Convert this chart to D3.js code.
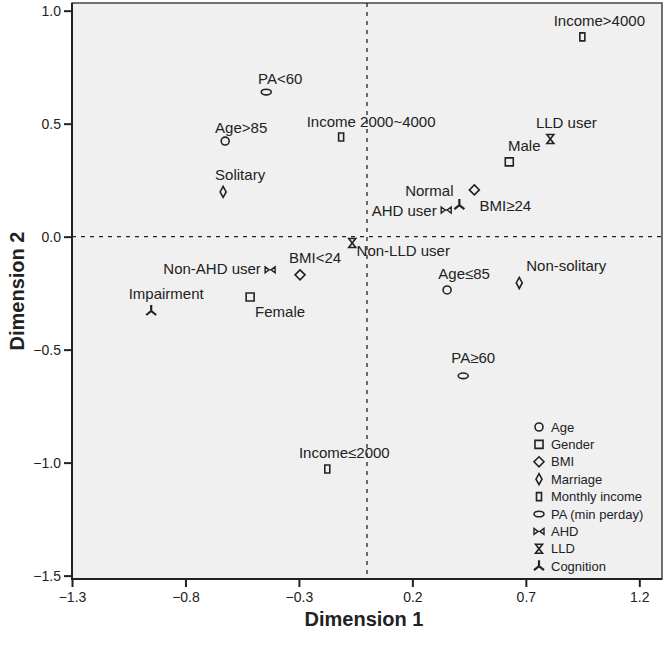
<!DOCTYPE html>
<html><head><meta charset="utf-8">
<script src="https://cdnjs.cloudflare.com/ajax/libs/d3/7.8.5/d3.min.js"></script>
<style>html,body{margin:0;padding:0;background:#fff;}</style>
</head><body>
<svg id="chart" width="666" height="645"></svg>
<script>
// ---- data ----
const labels = ["Income>4000","PA<60","Age>85","Income 2000~4000","Solitary","LLD user","Male","Normal","BMI≥24","AHD user","Non-LLD user","Age≤85","Non-solitary","Non-AHD user","BMI<24","Impairment","Female","PA≥60","Income≤2000"];
const groups = ["Monthly income","PA (min perday)","Age","Monthly income","Marriage","LLD","Gender","Cognition","BMI","AHD","LLD","Age","Marriage","AHD","BMI","Cognition","Gender","PA (min perday)","Monthly income"];
const dim1 = [0.949,-0.444,-0.625,-0.114,-0.634,0.808,0.627,0.407,0.473,0.349,-0.065,0.353,0.671,-0.427,-0.295,-0.951,-0.515,0.424,-0.175];
const dim2 = [0.884,0.640,0.423,0.441,0.198,0.432,0.331,0.140,0.207,0.118,-0.028,-0.236,-0.205,-0.147,-0.169,-0.329,-0.267,-0.616,-1.028];
const legendItems = ["Age","Gender","BMI","Marriage","Monthly income","PA (min perday)","AHD","LLD","Cognition"];
const xTicks = [-1.3,-0.8,-0.3,0.2,0.7,1.2];
const yTicks = [1.0,0.5,0.0,-0.5,-1.0,-1.5];

// ---- layout (label offsets in px relative to marker) ----
const labelOffset = {
  "Income>4000":[17,-16],"PA<60":[14,-14],"Age>85":[16,-14],"Income 2000~4000":[30,-16],
  "Solitary":[17,-17],"LLD user":[16,-17],"Male":[15,-16],"Normal":[-30,-15],"BMI≥24":[31,16],
  "AHD user":[-42,1],"Non-LLD user":[51,8],"Age≤85":[17,-16],"Non-solitary":[47,-17],
  "Non-AHD user":[-58,-1],"BMI<24":[15,-17],"Impairment":[15,-17],"Female":[30,15],
  "PA≥60":[10,-18],"Income≤2000":[17,-16]
};

const svg = d3.select("#chart");
const L = 72, R = 662, T = 3, B = 579;
const x = d3.scaleLinear().domain([-1.3, 1.3]).range([L, R]);
const y = d3.scaleLinear().domain([-1.515, 1.034]).range([B, T]);
const ink = "#222";
const font = "'Liberation Sans', Arial, sans-serif";

// background
svg.append("rect").attr("x", L).attr("y", T).attr("width", R - L).attr("height", B - T)
  .attr("fill", "#f0f0f0").attr("stroke", "#444").attr("stroke-width", 1.5);

// reference lines
svg.append("line").attr("x1", x(0)).attr("x2", x(0)).attr("y1", T).attr("y2", B)
  .attr("stroke", "#222").attr("stroke-width", 1.3).attr("stroke-dasharray", "4,5");
svg.append("line").attr("x1", L).attr("x2", R).attr("y1", y(0)).attr("y2", y(0))
  .attr("stroke", "#222").attr("stroke-width", 1.3).attr("stroke-dasharray", "4,5");

// axes
const xAxis = d3.axisBottom(x).tickValues(xTicks).tickFormat(d3.format(".1f")).tickSizeOuter(0).tickSize(8).tickPadding(5);
const yAxis = d3.axisLeft(y).tickValues(yTicks).tickFormat(d3.format(".1f")).tickSizeOuter(0).tickSize(8).tickPadding(3);
const gx = svg.append("g").attr("transform", `translate(0,${B})`).call(xAxis);
const gy = svg.append("g").attr("transform", `translate(${L},0)`).call(yAxis);
[gx, gy].forEach(g => {
  g.select(".domain").remove();
  g.selectAll(".tick line").attr("stroke", ink).attr("stroke-width", 2);
  g.selectAll(".tick text").attr("fill", ink).style("font-family", font).style("font-size", "14px");
});
svg.append("line").attr("x1", L).attr("x2", L).attr("y1", T).attr("y2", B + 1).attr("stroke", ink).attr("stroke-width", 2);
svg.append("line").attr("x1", L - 1).attr("x2", R).attr("y1", B).attr("y2", B).attr("stroke", ink).attr("stroke-width", 2);

// axis titles
svg.append("text").attr("x", (L + R) / 2 - 3).attr("y", 626).attr("text-anchor", "middle")
  .style("font-family", font).style("font-weight", "bold").style("font-size", "20px").attr("fill", ink).text("Dimension 1");
svg.append("text").attr("transform", `translate(24,${(T + B) / 2}) rotate(-90)`).attr("text-anchor", "middle")
  .style("font-family", font).style("font-weight", "bold").style("font-size", "20px").attr("fill", ink).text("Dimension 2");

// marker shapes
function shape(g, type) {
  const p = g.append("path").attr("fill", "none").attr("stroke", ink).attr("stroke-width", 1.6);
  switch (type) {
    case "Age": p.attr("d", d3.symbol(d3.symbolCircle, 50)()); break;
    case "Gender": p.attr("d", "M-4,-4H4V4H-4Z"); break;
    case "BMI": p.attr("d", "M0,-5L5,0L0,5L-5,0Z"); break;
    case "Marriage": p.attr("d", "M0,-5.5L3,0L0,5.5L-3,0Z"); break;
    case "Monthly income": p.attr("d", "M-2.5,-4H2.5V4H-2.5Z"); break;
    case "PA (min perday)": p.attr("d", "M-5,0A5,2.8 0 1 0 5,0A5,2.8 0 1 0 -5,0Z"); break;
    case "AHD": p.attr("d", "M-5,-3L-1,0L-5,3ZM5,-3L1,0L5,3ZM-2,0H2").attr("stroke-width", 1.4); break;
    case "LLD": p.attr("d", "M-3.5,-4.5L3.5,-4.5L-3.5,4.5L3.5,4.5Z"); break;
    case "Cognition": p.attr("d", "M0,0V-6M0,0L-5,4M0,0L5,4").attr("stroke-width", 2.2); break;
  }
}

// points
labels.forEach((lab, i) => {
  const g = svg.append("g").attr("transform", `translate(${x(dim1[i])},${y(dim2[i])})`);
  shape(g, groups[i]);
  const off = labelOffset[lab];
  svg.append("text").attr("x", x(dim1[i]) + off[0]).attr("y", y(dim2[i]) + off[1])
    .attr("text-anchor", "middle").attr("dominant-baseline", "central")
    .style("font-family", font).style("font-size", "15px").attr("fill", ink).text(lab);
});

// legend
const leg = svg.append("g");
legendItems.forEach((item, i) => {
  const yy = 427 + i * 17.4;
  const g = leg.append("g").attr("transform", `translate(539,${yy})`);
  shape(g, item);
  leg.append("text").attr("x", 551).attr("y", yy).attr("dominant-baseline", "central")
    .style("font-family", font).style("font-size", "13px").attr("fill", ink).text(item);
});
</script>
</body></html>
